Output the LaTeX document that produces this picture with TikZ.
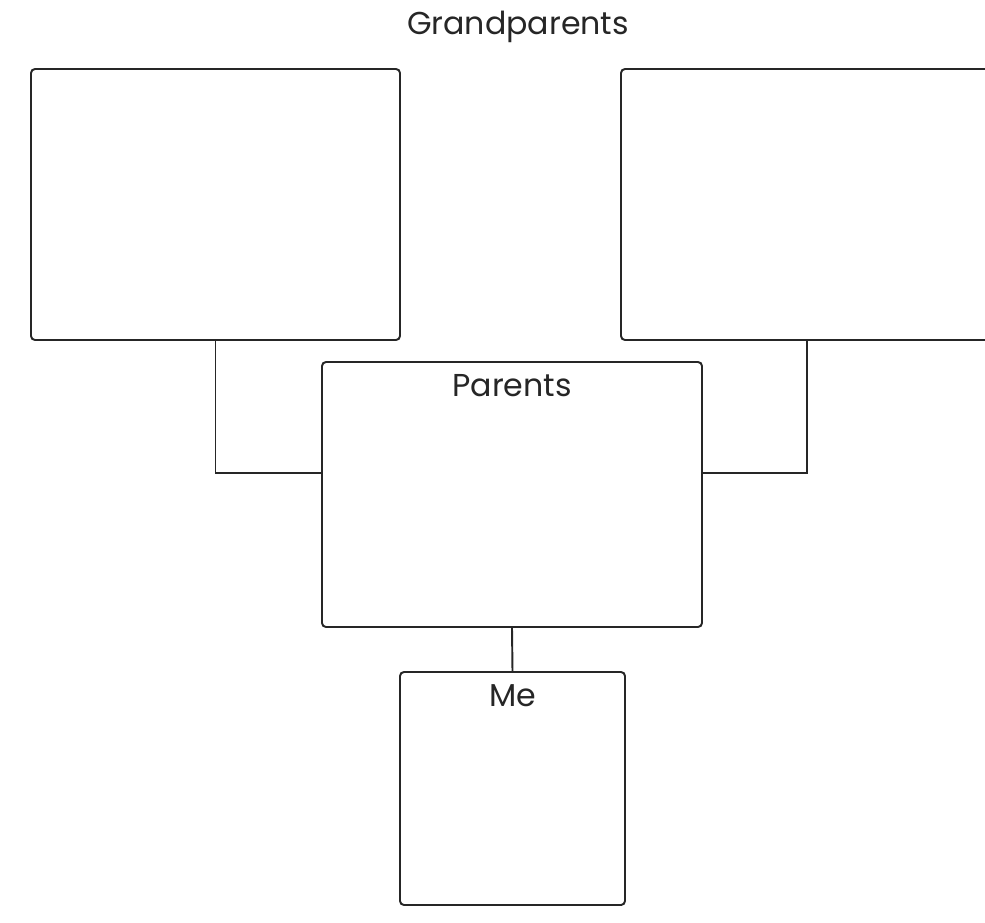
\documentclass[tikz,border=0pt]{standalone}
\usepackage{fontspec}
\setmainfont{Poppins}
\usepackage{tikz}
\usetikzlibrary{calc}

\begin{document}
\begin{tikzpicture}[x=0.2mm,y=-0.2mm,
	famBox/.style = {draw=black!85,line width=1.1pt,rounded corners=0.8mm,inner sep=0pt,fill=white},
	inLabel/.style = {anchor=north,yshift=-1.5mm,font=\fontsize{18}{21}\selectfont,text=black!85}
	]
	\useasboundingbox (0,0) rectangle (985,923);
	%TITOLO
	\node[font=\fontsize{18}{21}\selectfont,text=black!85] (title) at (518,27) {Grandparents};
	%NONNI
	\node[famBox,minimum width=73.8mm,minimum height=54.2mm] (gpLeft) at (215.5,204.5) {};
	\node[famBox,minimum width=74.4mm,minimum height=54.2mm] (gpRight) at (807,204.5) {};
	%GENITORI
	\node[famBox,minimum width=76mm,minimum height=53mm,
		label={[inLabel]north:Parents}] (par) at (512,494.5) {};
	%IO
	\node[famBox,minimum width=45mm,minimum height=46.6mm,
		label={[inLabel]north:Me}] (me) at (512.5,788.5) {};
	%Collegamenti
	\coordinate (joinL) at ($(par.north west)!0.42!(par.south west)$);
	\coordinate (joinR) at ($(par.north east)!0.42!(par.south east)$);
	\draw[black!85,line width=1.1pt] (gpLeft.south) |- (joinL);
	\draw[black!85,line width=1.1pt] (gpRight.south) |- (joinR);
	\draw[black!85,line width=1.1pt] (par.south) -- (me.north);
\end{tikzpicture}
\end{document}
